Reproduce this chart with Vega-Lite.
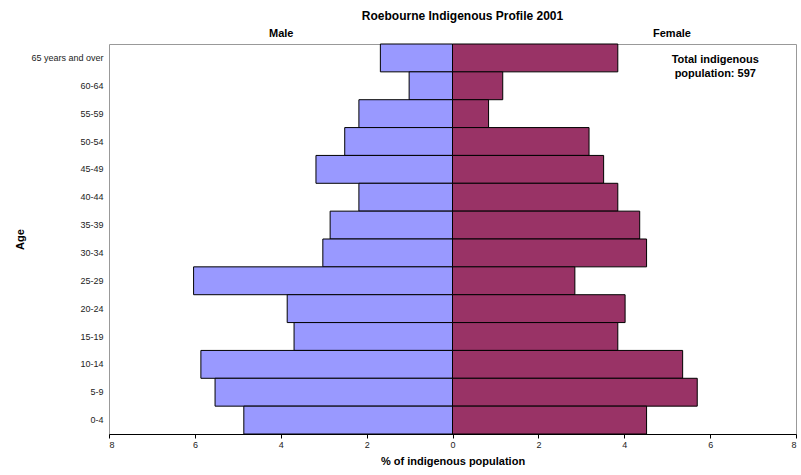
{
  "$schema": "https://vega.github.io/schema/vega-lite/v6.json",
  "width": 687,
  "height": 390,
  "autosize": "none",
  "padding": {"left": 109, "top": 44, "right": 5, "bottom": 41},
  "background": "white",
  "config": {
    "font": "Liberation Sans",
    "view": {"stroke": "#999999", "strokeWidth": 1},
    "axis": {"grid": false, "labelColor": "#222222", "titleColor": "#000000"}
  },
  "title": {
    "text": "Roebourne Indigenous Profile 2001",
    "fontSize": 12,
    "fontWeight": "bold",
    "font": "Liberation Sans",
    "color": "#000000",
    "anchor": "middle",
    "dx": 10,
    "offset": 4
  },
  "data": {
    "values": [
      {"age": "65 years and over", "sex": "Male", "pct": 1.68},
      {"age": "60-64", "sex": "Male", "pct": 1.01},
      {"age": "55-59", "sex": "Male", "pct": 2.18},
      {"age": "50-54", "sex": "Male", "pct": 2.51},
      {"age": "45-49", "sex": "Male", "pct": 3.18},
      {"age": "40-44", "sex": "Male", "pct": 2.18},
      {"age": "35-39", "sex": "Male", "pct": 2.85},
      {"age": "30-34", "sex": "Male", "pct": 3.02},
      {"age": "25-29", "sex": "Male", "pct": 6.03},
      {"age": "20-24", "sex": "Male", "pct": 3.85},
      {"age": "15-19", "sex": "Male", "pct": 3.69},
      {"age": "10-14", "sex": "Male", "pct": 5.86},
      {"age": "5-9", "sex": "Male", "pct": 5.53},
      {"age": "0-4", "sex": "Male", "pct": 4.86},
      {"age": "65 years and over", "sex": "Female", "pct": 3.85},
      {"age": "60-64", "sex": "Female", "pct": 1.17},
      {"age": "55-59", "sex": "Female", "pct": 0.84},
      {"age": "50-54", "sex": "Female", "pct": 3.18},
      {"age": "45-49", "sex": "Female", "pct": 3.52},
      {"age": "40-44", "sex": "Female", "pct": 3.85},
      {"age": "35-39", "sex": "Female", "pct": 4.36},
      {"age": "30-34", "sex": "Female", "pct": 4.52},
      {"age": "25-29", "sex": "Female", "pct": 2.85},
      {"age": "20-24", "sex": "Female", "pct": 4.02},
      {"age": "15-19", "sex": "Female", "pct": 3.85},
      {"age": "10-14", "sex": "Female", "pct": 5.36},
      {"age": "5-9", "sex": "Female", "pct": 5.70},
      {"age": "0-4", "sex": "Female", "pct": 4.52}
    ]
  },
  "encoding": {
    "y": {
      "field": "age",
      "type": "nominal",
      "sort": ["65 years and over", "60-64", "55-59", "50-54", "45-49", "40-44", "35-39", "30-34", "25-29", "20-24", "15-19", "10-14", "5-9", "0-4"],
      "scale": {"paddingInner": 0, "paddingOuter": 0},
      "axis": {
        "title": "Age",
        "titleFontSize": 11,
        "titleFontWeight": "bold",
        "titlePadding": 5,
        "labelFontSize": 9,
        "labelPadding": 6,
        "ticks": false,
        "domain": false
      }
    }
  },
  "layer": [
    {
      "transform": [{"filter": "datum.sex == 'Male'"}],
      "mark": {"type": "bar", "fill": "#9999FF", "stroke": "#000000", "strokeWidth": 1},
      "encoding": {
        "x": {
          "field": "pct",
          "type": "quantitative",
          "scale": {"domain": [-8, 8], "reverse": true, "nice": false},
          "axis": {
            "orient": "top",
            "values": [4, -5.1],
            "labelExpr": "datum.value > 0 ? 'Male' : 'Female'",
            "labelFontSize": 11,
            "labelFontWeight": "bold",
            "labelColor": "#000000",
            "labelPadding": 6,
            "ticks": false,
            "tickSize": 0,
            "domain": false,
            "title": null
          }
        }
      }
    },
    {
      "transform": [{"filter": "datum.sex == 'Female'"}],
      "mark": {"type": "bar", "fill": "#993366", "stroke": "#000000", "strokeWidth": 1},
      "encoding": {
        "x": {
          "field": "pct",
          "type": "quantitative",
          "scale": {"domain": [-8, 8], "nice": false},
          "axis": {
            "values": [-8, -6, -4, -2, 0, 2, 4, 6, 8],
            "labelExpr": "abs(datum.value)",
            "labelFontSize": 9,
            "labelPadding": 2,
            "tickSize": 4,
            "tickColor": "#000000",
            "domainColor": "#000000",
            "domainWidth": 1,
            "title": "% of indigenous population",
            "titleFontSize": 11,
            "titleFontWeight": "bold",
            "titlePadding": 6
          }
        }
      }
    },
    {
      "data": {"values": [{"note": "total"}]},
      "mark": {
        "type": "text",
        "text": ["Total indigenous", "population: 597"],
        "fontSize": 11,
        "fontWeight": "bold",
        "lineHeight": 14,
        "align": "center",
        "baseline": "middle",
        "dy": 2,
        "fill": "#000000"
      },
      "encoding": {
        "x": {"datum": 6.12, "type": "quantitative", "scale": {"domain": [-8, 8], "nice": false}, "axis": null},
        "y": {"datum": "65 years and over"}
      }
    }
  ],
  "resolve": {"scale": {"x": "independent"}}
}
